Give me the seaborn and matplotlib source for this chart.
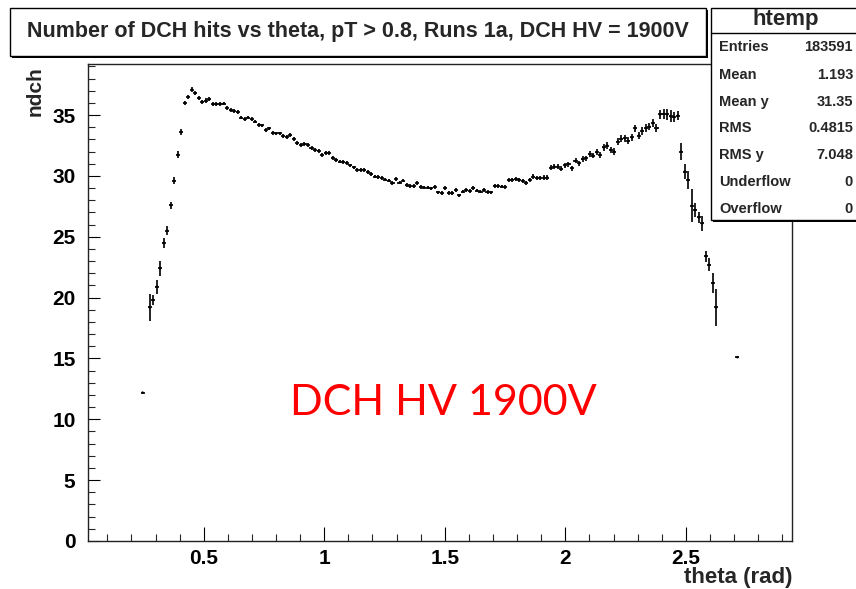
import numpy as np
import pandas as pd
import matplotlib
matplotlib.use("Agg")
import matplotlib.pyplot as plt
import seaborn as sns
from matplotlib.patches import Rectangle
from matplotlib.lines import Line2D

# ---------------- data (TProfile "htemp": ndch vs theta) ----------------
X_MIN, X_MAX, N_BINS = 0.02, 2.94, 200
FIRST_BIN = 15
nan = float("nan")

ndch_mean = [
    12.2, nan, 19.2, 19.8, 20.9, 22.4, 24.5, 25.5, 27.6, 29.6, 31.75, 33.6,
    36.0, 36.5, 37.1, 36.8, 36.4, 36.1, 36.2, 36.3,
    35.9, 35.9, 35.9, 35.95, 35.6, 35.4, 35.35, 35.25, 34.8, 34.65, 34.8, 34.65,
    34.47, 34.2, 34.15, 33.75, 33.9, 33.55, 33.5, 33.5, 33.3, 33.2, 33.37, 33.05,
    32.69, 32.55, 32.61, 32.55, 32.28, 32.14, 32.06, 31.73,
    31.9, 31.9, 31.5, 31.32, 31.18, 31.15, 31.08, 30.87, 30.7, 30.5, 30.5, 30.5,
    30.3, 30.15, 29.95, 29.9, 29.85, 29.7, 29.62, 29.42, 29.74, 29.45, 29.62, 29.23,
    29.16, 29.15, 29.43, 29.1, 29.05, 29.05, 28.97, 29.1, 28.65, 28.6, 29.0, 28.62,
    28.58, 28.84, 28.4, 28.72, 28.83, 28.77, 29.02, 28.8, 28.72, 28.86, 28.68, 28.64,
    29.19, 29.17, 29.13, 29.1, 29.65, 29.7, 29.73, 29.7, 29.6, 29.45, 29.7, 29.95,
    29.82, 29.85, 29.87, 29.87,
    30.69, 30.77, 30.77, 30.58, 30.86, 30.97, 30.64, 31.24, 31.05, 31.4, 31.46, 31.79,
    31.68, 31.95, 31.73,
    32.34, 32.5, 32.14, 32.0, 32.83, 33.05, 33.1, 32.88, 33.16, 33.92, 33.32, 33.7,
    33.92, 34.06, 34.33, 33.92,
    35.05, 35.1, 35.05, 34.9, 34.85, 34.95,
    32.0, 30.36, 29.68, 27.55, 27.2, 26.6, 26.1, 23.4, 22.7, 21.2, 19.2,
    nan, nan, nan, nan, nan, 15.1,
]

ndch_err = [
    0.0, nan, 1.05, 0.4, 0.55, 0.55, 0.35, 0.35, 0.25, 0.25, 0.22, 0.2,
    0.16, 0.15, 0.15, 0.14, 0.14, 0.14, 0.13, 0.13,
    0.13, 0.13, 0.12, 0.12, 0.12, 0.12, 0.12, 0.12, 0.12, 0.12, 0.12, 0.12,
    0.11, 0.11, 0.11, 0.11, 0.11, 0.11, 0.11, 0.11, 0.11, 0.11, 0.11, 0.11,
    0.11, 0.11, 0.11, 0.11, 0.11, 0.11, 0.11, 0.11,
    0.11, 0.11, 0.11, 0.11, 0.11, 0.11, 0.11, 0.11, 0.11, 0.11, 0.11, 0.11,
    0.11, 0.11, 0.11, 0.11, 0.11, 0.11, 0.11, 0.11, 0.11, 0.11, 0.11, 0.11,
    0.11, 0.11, 0.11, 0.11, 0.11, 0.11, 0.11, 0.11, 0.11, 0.11, 0.11, 0.11,
    0.11, 0.11, 0.11, 0.11, 0.11, 0.11, 0.11, 0.11, 0.11, 0.11, 0.11, 0.11,
    0.12, 0.12, 0.12, 0.12, 0.12, 0.12, 0.13, 0.13, 0.13, 0.13, 0.13, 0.13,
    0.14, 0.14, 0.14, 0.14,
    0.15, 0.15, 0.15, 0.16, 0.16, 0.16, 0.17, 0.17, 0.17, 0.18, 0.18, 0.18,
    0.19, 0.19, 0.2,
    0.22, 0.22, 0.22, 0.23, 0.23, 0.24, 0.24, 0.25, 0.25, 0.26, 0.26, 0.27,
    0.27, 0.28, 0.28, 0.3,
    0.35, 0.38, 0.4, 0.45, 0.4, 0.35,
    0.66, 0.6, 0.7, 1.3, 0.5, 0.4, 0.6, 0.4, 0.5, 0.75, 1.5,
    nan, nan, nan, nan, nan, 0.0,
]

title_text = "Number of DCH hits vs theta, pT > 0.8, Runs 1a, DCH HV = 1900V"
stats_name = "htemp"
stats_labels = ["Entries", "Mean", "Mean y", "RMS", "RMS y", "Underflow", "Overflow"]
stats_values = ["183591", "1.193", "31.35", "0.4815", "7.048", "0", "0"]
x_ticks = [0.5, 1.0, 1.5, 2.0, 2.5]
x_tick_labels = ["0.5", "1", "1.5", "2", "2.5"]
y_ticks = [0, 5, 10, 15, 20, 25, 30, 35]
annotation = "DCH HV 1900V"

# ---------------- build table ----------------
edges = np.linspace(X_MIN, X_MAX, N_BINS + 1)
centers = 0.5 * (edges[:-1] + edges[1:])
half_w = 0.5 * (edges[1] - edges[0])
n = len(ndch_mean)
assert len(ndch_err) == n
df = pd.DataFrame({
    "theta": centers[FIRST_BIN:FIRST_BIN + n],
    "ndch": ndch_mean,
    "err": ndch_err,
}).dropna()

# ---------------- figure ----------------
W, H = 856, 589
sns.set_theme(style="ticks")
plt.rcParams["font.family"] = ["Liberation Sans", "DejaVu Sans"]
plt.rcParams["font.weight"] = "bold"

fig = plt.figure(figsize=(W / 100, H / 100), dpi=100)
fig.patch.set_facecolor("white")

def fx(px):
    return px / W

def fy(py):
    return 1 - py / H

ax = fig.add_axes([fx(88), fy(541), (792 - 88) / W, (541 - 64) / H])
ax.set_facecolor("white")

ax.errorbar(df["theta"], df["ndch"], xerr=half_w * 1.15, yerr=df["err"] + 0.04,
            fmt="none", ecolor="#111111", elinewidth=1.3, capsize=0)
sns.scatterplot(data=df, x="theta", y="ndch", ax=ax, s=3, color="black",
                edgecolor="none", legend=False, zorder=3)

ax.set_xlim(X_MIN, X_MAX)
ax.set_ylim(0, 39.2)
ax.set_xlabel("")
ax.set_ylabel("")
ax.set_xticks(x_ticks)
ax.set_xticklabels(x_tick_labels)
ax.set_yticks(y_ticks)
ax.set_xticks(np.round(np.arange(0.1, 2.95, 0.1), 2), minor=True)
ax.set_yticks(np.arange(0, 39.5, 1), minor=True)
for lab in ax.get_xticklabels() + ax.get_yticklabels():
    lab.set_fontweight("bold")
ax.tick_params(axis="x", which="major", direction="in", length=10, width=0.8,
               labelsize=15, pad=6, colors="black")
ax.tick_params(axis="x", which="minor", direction="in", length=5, width=0.8)
ax.tick_params(axis="y", which="major", direction="in", length=8.6, width=0.8,
               labelsize=15, pad=9, colors="black")
ax.tick_params(axis="y", which="minor", direction="in", length=4.7, width=0.8)
ax.tick_params(top=False, right=False, which="both")
for s in ax.spines.values():
    s.set_visible(True)
    s.set_linewidth(1.0)
    s.set_color("#222222")

# axis titles
fig.text(fx(35), fy(66), "ndch", rotation=90, ha="center", va="top",
         fontsize=15, fontweight="bold")
fig.text(fx(792), fy(578), "theta (rad)", ha="right", va="center",
         fontsize=16, fontweight="bold")

# red annotation
fig.text(fx(443), fy(403), annotation, ha="center", va="center",
         fontsize=31, color="#ff0000", fontweight="normal", family=["Lato", "DejaVu Sans"])

# boxes with shadow
def box(x0, y0, x1, y1, shadow=2):
    fig.patches.append(Rectangle((fx(x0 + shadow), fy(y1 + shadow)), (x1 - x0) / W,
                                 (y1 - y0) / H, transform=fig.transFigure,
                                 facecolor="black", edgecolor="black", lw=0, zorder=5))
    fig.patches.append(Rectangle((fx(x0), fy(y1)), (x1 - x0) / W, (y1 - y0) / H,
                                 transform=fig.transFigure, facecolor="white",
                                 edgecolor="black", lw=1.0, zorder=6))

box(10, 8, 706, 56)
fig.text(fx(358), fy(32), title_text, ha="center", va="center",
         fontsize=15.5, fontweight="bold", zorder=7)

# stats box
box(711, 8, 870, 220)
fig.lines.append(Line2D([fx(711), fx(870)], [fy(33), fy(33)],
                        transform=fig.transFigure, color="black", lw=1.0, zorder=7))
fig.text(fx(786), fy(20), stats_name, ha="center", va="center",
         fontsize=16, fontweight="bold", zorder=7)
row_y = [47, 75, 102, 128, 155, 182, 209]
for lab, val, yy in zip(stats_labels, stats_values, row_y):
    fig.text(fx(719), fy(yy), lab, ha="left", va="center", fontsize=10.5,
             fontweight="bold", zorder=7)
    fig.text(fx(853), fy(yy), val, ha="right", va="center", fontsize=10.5,
             fontweight="bold", zorder=7)

fig.savefig("out.png", dpi=100, facecolor="white")
